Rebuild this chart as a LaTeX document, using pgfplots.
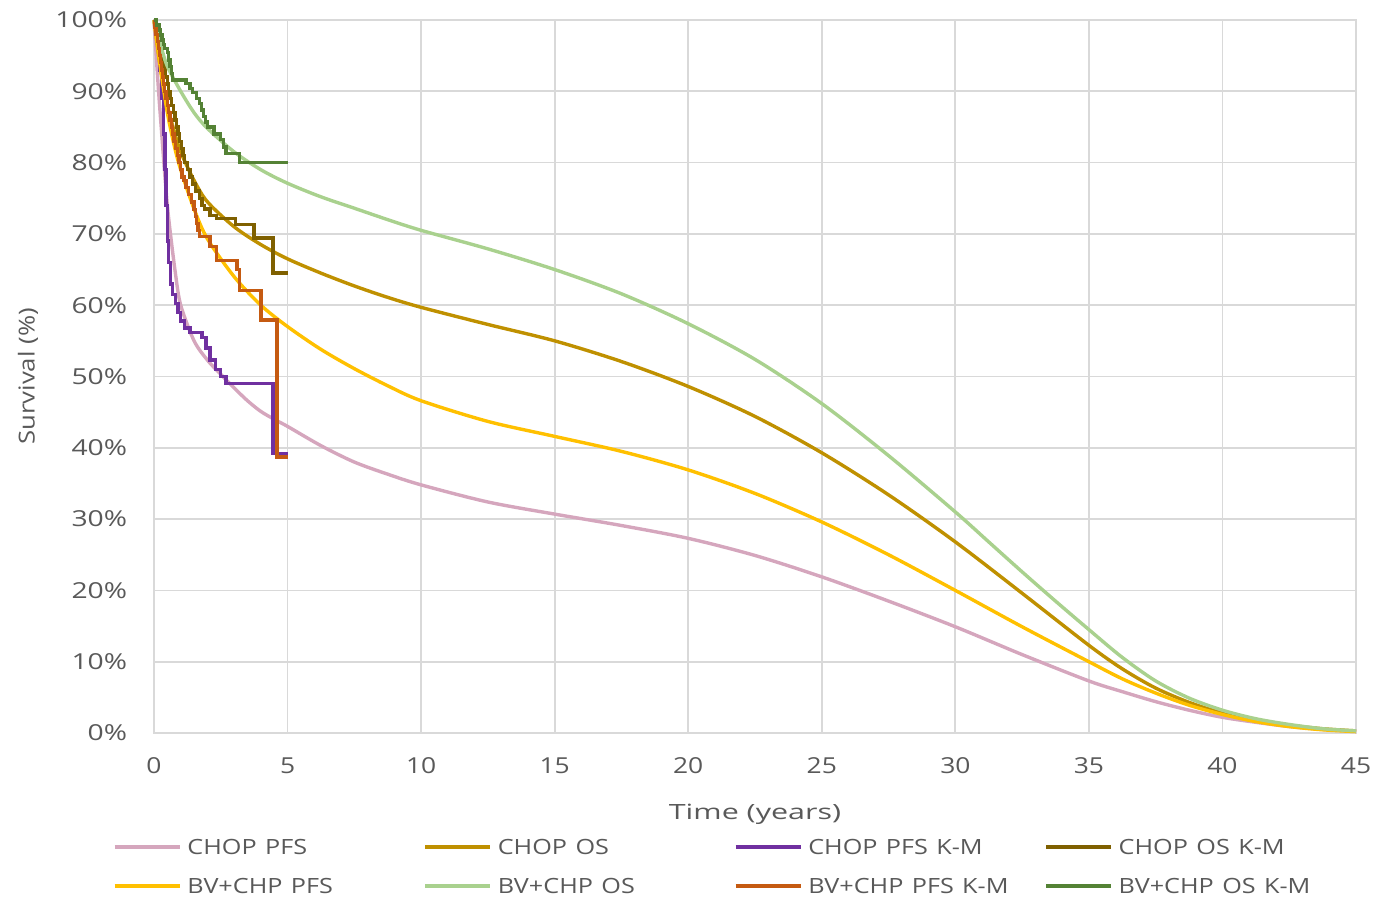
\documentclass[border=0pt]{standalone}
\usepackage{fontspec}
\setmainfont{Open Sans}
\usepackage{pgfplots}
\pgfplotsset{compat=1.18}
\definecolor{gridgray}{HTML}{D9D9D9}
\definecolor{labelgray}{HTML}{595959}
\definecolor{chpfs}{RGB}{213,166,189}
\definecolor{chos}{HTML}{BF9000}
\definecolor{chpfskm}{HTML}{7030A0}
\definecolor{choskm}{HTML}{7F6000}
\definecolor{bvpfs}{HTML}{FFC000}
\definecolor{bvos}{HTML}{A9D18E}
\definecolor{bvpfskm}{HTML}{C55A11}
\definecolor{bvoskm}{HTML}{548235}
\begin{document}
\begin{tikzpicture}
\begin{axis}[
  name=ax,
  scale only axis, width=601pt, height=356.5pt,
  xmin=0, xmax=45, ymin=0, ymax=100,
  xtick={0,5,...,45}, ytick={0,10,...,100},
  /pgf/number format/assume math mode=true,
  yticklabel={\pgfmathprintnumber{\tick}\%},
  grid=major,
  major grid style={draw=gridgray, line width=0.9pt},
  axis line style={draw=gridgray, line width=0.9pt},
  tick style={draw=none},
  clip=false,
  tick label style={font=\fontsize{11}{13}\selectfont, text=labelgray, inner sep=0pt, xscale=1.2},
  xticklabel style={anchor=center, yshift=-16.5pt},
  yticklabel style={anchor=east, xshift=-11pt, xscale=1.07},
  xlabel={Time (years)},
  xlabel style={at={(rel axis cs:0.5,0)}, anchor=center, yshift=-40.5pt, font=\fontsize{10.5}{12}\selectfont, text=labelgray, inner sep=0pt, xscale=1.45},
  ylabel={Survival (\%)},
  ylabel style={at={(rel axis cs:0,0.5)}, anchor=center, yshift=63pt, font=\fontsize{11}{12}\selectfont, text=labelgray, inner sep=0pt, xscale=1.17},
  legend columns=4,
  legend image code/.code={\draw[#1, line width=1.7pt] (0pt,0pt) -- (32.5pt,0pt);},
  legend style={at={(rel axis cs:0,0)}, anchor=north west, xshift=-20.5pt, yshift=-53.25pt,
    draw=none, fill=none, inner sep=0pt, outer sep=0pt, row sep=12pt,
    font=\fontsize{10.5}{12}\selectfont, text=labelgray,
    nodes={xscale=1.2, inner xsep=2.5pt, inner ysep=0pt, text height=7.5pt, text depth=0pt, text width=95.85pt, align=left}},
  every axis plot/.append style={line width=1.7pt},
]
% CHOP PFS
\addplot[chpfs, smooth] coordinates {
(0,100) (0.1,94) (0.2,88.5) (0.3,83.5) (0.4,78.5) (0.5,74) (0.6,70.5) (0.8,64.5) (1,60) (1.5,55) (2,52.3) (2.5,50.3) (3,48.4) (3.5,46.6) (4,45.1) (4.5,44) (5,43) (6.25,40.3) (7.5,38) (8.75,36.3) (10,34.8) (12.5,32.4) (15,30.7) (17.5,29.1) (20,27.3) (22.5,24.9) (25,21.9) (27.5,18.5) (30,14.9) (32.5,11.0) (35,7.3) (36.25,5.8) (37.5,4.4) (38.75,3.2) (40,2.2) (41.25,1.5) (42.5,0.9) (43.75,0.5) (45,0.2)};
\addlegendentry{CHOP PFS}
% CHOP OS
\addplot[chos, smooth] coordinates {
(0,100) (0.25,93) (0.5,88) (0.75,84.5) (1,81.5) (1.5,77.5) (2,74.5) (3,71) (4,68.5) (5,66.5) (6.25,64.5) (7.5,62.7) (8.75,61.1) (10,59.7) (12.5,57.3) (15,55.0) (17.5,52.1) (20,48.6) (22.5,44.4) (25,39.3) (27.5,33.4) (30,26.8) (32.5,19.6) (35,12.3) (36.25,9.0) (37.5,6.3) (38.75,4.3) (40,2.8) (41.25,1.8) (42.5,1.1) (43.75,0.6) (45,0.3)};
\addlegendentry{CHOP OS}
% CHOP PFS K-M
\addplot[chpfskm, const plot] coordinates {
(0,100) (0.1,97) (0.2,93) (0.29,89) (0.35,84) (0.41,79) (0.45,74) (0.5,69) (0.55,66) (0.62,63) (0.7,61.5) (0.8,60.2) (0.9,59) (1.0,57.8) (1.15,56.8) (1.35,56.2) (1.8,55.5) (1.95,54) (2.1,52.3) (2.3,51) (2.5,50) (2.7,49) (4.45,39.2) (5.0,39.2)};
\addlegendentry{CHOP PFS K-M}
% CHOP OS K-M
\addplot[choskm, const plot] coordinates {
(0,100) (0.05,99) (0.1,98) (0.15,97) (0.2,96) (0.26,95) (0.32,94) (0.38,93) (0.44,92) (0.5,91) (0.55,90) (0.6,89) (0.66,88) (0.72,87) (0.78,86) (0.84,85) (0.9,84) (0.96,83) (1.02,82) (1.08,81) (1.15,80) (1.25,79) (1.35,78) (1.45,77) (1.55,76) (1.7,75) (1.8,74) (1.9,73.5) (2.1,72.6) (2.35,72.2) (3.05,71.3) (3.75,69.4) (4.45,64.5) (5.0,64.5)};
\addlegendentry{CHOP OS K-M}
% BV+CHP PFS
\addplot[bvpfs, smooth] coordinates {
(0,100) (0.25,93) (0.5,87) (0.75,82.5) (1,79) (1.5,73.5) (2,69.3) (3,64) (4,60) (5,57) (6.25,53.8) (7.5,51.1) (8.75,48.7) (10,46.6) (12.5,43.7) (15,41.6) (17.5,39.5) (20,36.9) (22.5,33.6) (25,29.6) (27.5,25.0) (30,20.0) (32.5,14.9) (35,10.0) (36.25,7.6) (37.5,5.6) (38.75,3.9) (40,2.6) (41.25,1.6) (42.5,0.9) (43.75,0.45) (45,0.2)};
\addlegendentry{BV+CHP PFS}
% BV+CHP OS
\addplot[bvos, smooth] coordinates {
(0,100) (0.25,96.5) (0.5,93.5) (1,90) (1.5,87) (2,84.8) (3,81.5) (4,79) (5,77.1) (6.25,75.2) (7.5,73.6) (8.75,72.0) (10,70.5) (12.5,67.9) (15,65.0) (17.5,61.6) (20,57.4) (22.5,52.4) (25,46.2) (27.5,38.9) (30,31.0) (31.25,26.8) (32.5,22.6) (33.75,18.5) (35,14.5) (36.25,10.6) (37.5,7.3) (38.75,4.9) (40,3.2) (41.25,2.0) (42.5,1.2) (43.75,0.6) (45,0.3)};
\addlegendentry{BV+CHP OS}
% BV+CHP PFS K-M
\addplot[bvpfskm, const plot] coordinates {
(0,100) (0.04,99) (0.08,98) (0.12,97) (0.16,96) (0.2,95) (0.24,94) (0.28,93) (0.32,92) (0.36,91) (0.4,90) (0.45,89) (0.5,88) (0.55,87) (0.6,86) (0.65,85) (0.7,84) (0.75,83) (0.8,82) (0.87,81) (0.94,80) (1.0,79) (1.05,78) (1.12,77.5) (1.2,76.5) (1.3,75.5) (1.4,74.5) (1.5,73.4) (1.55,72.4) (1.6,71.5) (1.65,70.5) (1.7,69.6) (2.1,68.2) (2.35,66.3) (3.1,65) (3.2,62.1) (4.0,57.9) (4.6,38.7) (5.0,38.7)};
\addlegendentry{BV+CHP PFS K-M}
% BV+CHP OS K-M
\addplot[bvoskm, const plot] coordinates {
(0,100) (0.1,99.3) (0.2,98.6) (0.25,97.9) (0.3,97.2) (0.35,96.6) (0.4,96) (0.5,95.4) (0.55,94.4) (0.6,93.5) (0.65,92.5) (0.7,91.6) (1.2,91.1) (1.35,90.4) (1.45,89.8) (1.6,89) (1.7,88.3) (1.78,87.4) (1.85,86.5) (1.92,85.7) (2.0,85) (2.25,84) (2.5,83.2) (2.6,82.2) (2.7,81.3) (3.2,80.0) (5.0,80.0)};
\addlegendentry{BV+CHP OS K-M}
\end{axis}
\pgfresetboundingbox
\path[use as bounding box] ([xshift=-77pt,yshift=-83pt]ax.south west) rectangle ([xshift=10pt,yshift=10pt]ax.north east);
\end{tikzpicture}
\end{document}
